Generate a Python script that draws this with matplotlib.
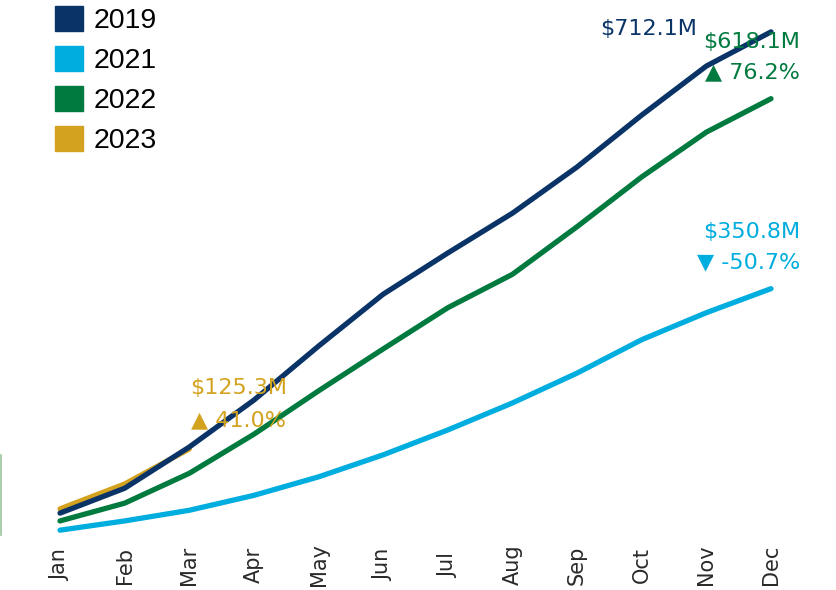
import matplotlib
matplotlib.use("Agg")
import matplotlib.pyplot as plt
from matplotlib.patches import Patch
from matplotlib.lines import Line2D

# cumulative values, $M
months = ["Jan", "Feb", "Mar", "Apr", "May", "Jun",
          "Jul", "Aug", "Sep", "Oct", "Nov", "Dec"]
v2019 = [35, 70, 128, 194, 270, 343, 401, 457, 522, 595, 664, 712.1]
v2021 = [11, 24, 39, 60, 86, 117, 152, 190, 232, 279, 317, 350.8]
v2022 = [24, 49, 91, 146, 207, 266, 324, 371, 438, 508, 571, 618.1]
v2023 = [41, 76, 125.3]

c2019 = "#0a3468"
c2021 = "#00addf"
c2022 = "#007a3e"
c2023 = "#d3a21f"

fig = plt.figure(figsize=(8.36, 5.90), dpi=100)
ax = fig.add_axes([50 / 836, 1 - 545 / 590, 731 / 836, 525 / 590])

x = list(range(12))
ax.plot(x, v2023 + [None] * 9, color=c2023, lw=3.8, solid_capstyle="round")
ax.plot(x, v2021, color=c2021, lw=3.8, solid_capstyle="round")
ax.plot(x, v2022, color=c2022, lw=3.8, solid_capstyle="round")
ax.plot(x, v2019, color=c2019, lw=3.8, solid_capstyle="round")

ax.set_xlim(-0.155, 11.155)
ax.set_ylim(-9.85, 728.8)
ax.set_xticks(x)
ax.set_xticklabels(months, rotation=90, fontsize=15, color="#2a2a2a", va="center")
ax.tick_params(axis="x", length=0, pad=14.4)
ax.set_yticks([])
for s in ax.spines.values():
    s.set_visible(False)

fs = 16
# annotations
ax.annotate("$712.1M", xy=(11, v2019[-1]), xytext=(-74, 3), textcoords="offset pixels",
            ha="right", va="center", fontsize=fs, color=c2019)
ax.annotate("$618.1M", xy=(11, v2022[-1]), xytext=(29, 57), textcoords="offset pixels",
            ha="right", va="center", fontsize=fs, color=c2022)
ax.annotate("▲ 76.2%", xy=(11, v2022[-1]), xytext=(29, 26), textcoords="offset pixels",
            ha="right", va="center", fontsize=fs, color=c2022)
ax.annotate("$350.8M", xy=(11, v2021[-1]), xytext=(29, 57), textcoords="offset pixels",
            ha="right", va="center", fontsize=fs, color=c2021)
ax.annotate("▼ -50.7%", xy=(11, v2021[-1]), xytext=(29, 26), textcoords="offset pixels",
            ha="right", va="center", fontsize=fs, color=c2021)
ax.annotate("$125.3M", xy=(2, v2023[-1]), xytext=(98, 61), textcoords="offset pixels",
            ha="right", va="center", fontsize=fs, color=c2023)
ax.annotate("▲ 41.0%", xy=(2, v2023[-1]), xytext=(97, 29), textcoords="offset pixels",
            ha="right", va="center", fontsize=fs, color=c2023)

# legend
handles = [Patch(color=c, label=l) for c, l in
           [(c2019, "2019"), (c2021, "2021"), (c2022, "2022"), (c2023, "2023")]]
fig.legend(handles=handles, loc="upper left", bbox_to_anchor=(0.062, 0.995),
           frameon=False, prop={"family": "Liberation Sans", "size": 20.5},
           handlelength=0.98, handleheight=0.98, handletextpad=0.38,
           labelspacing=0.41, borderaxespad=0, borderpad=0.1)

# thin line at left edge
fig.add_artist(Line2D([1 / 836, 1 / 836], [1 - 535 / 590, 1 - 455 / 590],
                      color="#9cc49c", lw=1.2, transform=fig.transFigure))

fig.savefig("out.png", dpi=100)
